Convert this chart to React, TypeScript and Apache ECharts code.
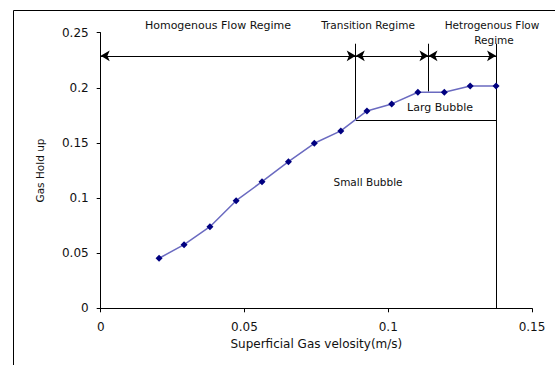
import React, { useEffect, useRef } from "react";
import * as echarts from "echarts";

// Superficial gas velocity (m/s)
const velocity = [0.0203, 0.029, 0.038, 0.0471, 0.0561, 0.0653, 0.0743, 0.0835, 0.0926, 0.1012, 0.1103, 0.1195, 0.1285, 0.1375];
// Gas hold up
const holdup = [0.0454, 0.0577, 0.074, 0.0976, 0.1149, 0.133, 0.1497, 0.1609, 0.179, 0.1854, 0.196, 0.196, 0.2017, 0.2017];

// Regime boundaries on the velocity axis
const regimeBounds = [0, 0.0887, 0.114, 0.1375];
const arrowLevel = 0.229;
const boundaryTop = 0.24;
const bubbleSplit = 0.1708;
const transitionEndHoldup = 0.1966;

const xTicks = { min: 0, max: 0.15, interval: 0.05 };
const yTicks = { min: 0, max: 0.25, interval: 0.05 };

const FONT = "DejaVu Sans";
const TXT = "#111";

export default function App() {
  const ref = useRef<HTMLDivElement>(null);
  useEffect(() => {
    if (!ref.current) return;
    const chart = echarts.init(ref.current, null, { renderer: "svg" });
    const pts = velocity.map((v, i) => [v, holdup[i]]);
    const arrowSeg = (a: number, b: number) => [
      { coord: [a, arrowLevel], symbol: "arrow" },
      { coord: [b, arrowLevel], symbol: "arrow" },
    ];
    const plain = (x1: number, y1: number, x2: number, y2: number) => [
      { coord: [x1, y1], symbol: "none" },
      { coord: [x2, y2], symbol: "none" },
    ];
    const annText = (text: string, x: number, y: number, size = 11) => ({
      type: "text",
      x,
      y,
      silent: true,
      style: {
        text,
        fill: TXT,
        font: `${size}px "${FONT}"`,
        align: "center",
        verticalAlign: "middle",
      },
    });
    chart.setOption({
      animation: false,
      backgroundColor: "#fff",
      textStyle: { fontFamily: FONT },
      grid: { left: 100.7, right: 23, top: 32.7, bottom: 56.7, containLabel: false },
      xAxis: {
        type: "value",
        ...xTicks,
        name: "Superficial Gas velosity(m/s)",
        nameLocation: "middle",
        nameGap: 29,
        nameTextStyle: { fontSize: 12, color: TXT, fontFamily: FONT },
        axisLine: { show: true, lineStyle: { color: "#000", width: 1 } },
        axisTick: { show: true, inside: false, length: 4, lineStyle: { color: "#000" } },
        axisLabel: { fontSize: 12, color: TXT, margin: 13, fontFamily: FONT },
        splitLine: { show: false },
      },
      yAxis: {
        type: "value",
        ...yTicks,
        name: "Gas Hold up",
        nameLocation: "middle",
        nameRotate: 90,
        nameGap: 55,
        nameTextStyle: { fontSize: 10.5, color: TXT, fontFamily: FONT },
        axisLine: { show: true, lineStyle: { color: "#000", width: 1 } },
        axisTick: { show: true, inside: false, length: 4, lineStyle: { color: "#000" } },
        axisLabel: { fontSize: 12, color: TXT, margin: 12, fontFamily: FONT },
        splitLine: { show: false },
      },
      series: [
        {
          type: "line",
          data: pts,
          symbol: "diamond",
          symbolSize: 7,
          itemStyle: { color: "#000080" },
          lineStyle: { color: "#6a6ac0", width: 1.5 },
          silent: true,
          z: 5,
          markLine: {
            silent: true,
            animation: false,
            symbolSize: [8, 9],
            label: { show: false },
            lineStyle: { color: "#000", width: 1, type: "solid" },
            emphasis: { disabled: true },
            data: [
              arrowSeg(regimeBounds[0], regimeBounds[1]),
              arrowSeg(regimeBounds[1], regimeBounds[2]),
              arrowSeg(regimeBounds[2], regimeBounds[3]),
              plain(regimeBounds[1], boundaryTop, regimeBounds[1], bubbleSplit),
              plain(regimeBounds[2], boundaryTop, regimeBounds[2], transitionEndHoldup),
              plain(regimeBounds[3], boundaryTop, regimeBounds[3], 0),
              plain(regimeBounds[1], bubbleSplit, regimeBounds[3], bubbleSplit),
            ],
          },
        },
      ],
      graphic: [
        { type: "line", silent: true, shape: { x1: 13.5, y1: 10.5, x2: 555, y2: 10.5 }, style: { stroke: "#000", lineWidth: 1 } },
        { type: "line", silent: true, shape: { x1: 13.5, y1: 10.5, x2: 13.5, y2: 365 }, style: { stroke: "#000", lineWidth: 1 } },
        annText("Homogenous Flow Regime", 218, 25),
        annText("Transition Regime", 368, 25, 10.5),
        annText("Hetrogenous Flow", 492, 25, 10.5),
        annText("Regime", 494, 40, 10.5),
        annText("Larg Bubble", 440, 107),
        annText("Small Bubble", 368, 182, 10.5),
      ],
    });
    return () => chart.dispose();
  }, []);
  return (
    <div
      ref={ref}
      style={{ position: "absolute", left: 0, top: 0, width: 555, height: 365, background: "#fff" }}
    />
  );
}
